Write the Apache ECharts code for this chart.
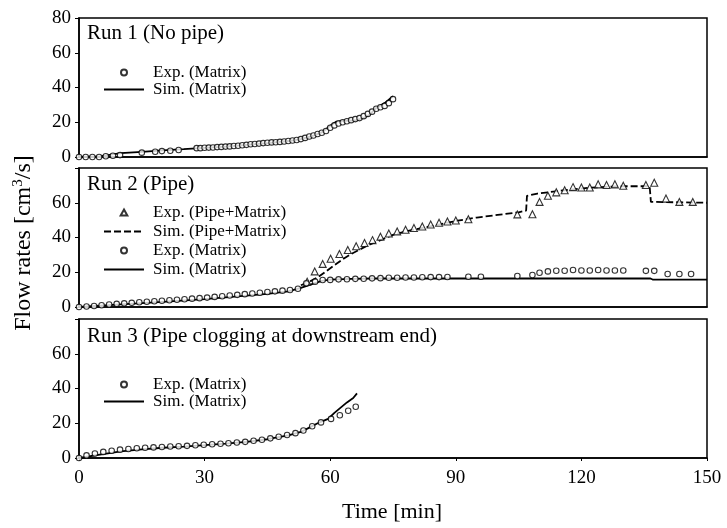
<!DOCTYPE html>
<html>
<head>
<meta charset="utf-8">
<script src="https://cdn.jsdelivr.net/npm/echarts@6/dist/echarts.min.js"></script>
<style>html,body{margin:0;padding:0;background:#fff}#c{width:727px;height:528px}</style>
</head>
<body>
<div id="c"></div>
<script>
// ---------- data (time [min], flow rate [cm3/s]) ----------
var xTicks = [0, 30, 60, 90, 120, 150];
var yTicks = [0, 20, 40, 60, 80];

var run1ExpMatrix = [[0,0],[1.6,0],[3.2,0],[4.8,0],[6.4,0.4],[8.1,0.7],[9.8,1.1],[15,2.5],[18.2,3],[19.8,3.4],[21.8,3.6],[23.8,4],
  [28.1,5.1],[29,5.1],[30,5.3],[31,5.4],[32,5.5],[33,5.7],[34,5.8],[35,6],[36,6.1],[37,6.3],[38,6.5],[39,6.8],[40,7],[41,7.3],
  [42,7.5],[43,7.7],[44,8],[45,8.2],[46,8.4],[47,8.5],[48,8.7],[49,8.9],[50,9.2],[51,9.5],[52,9.8],[53,10.3],[54,11],[55,11.8],
  [56,12.4],[57,13.2],[58,14],[59,15],[60,16.8],[61,18.2],[62,19.3],[63,20],[64,20.6],[65,21.2],[66,21.8],[67,22.4],[68,23.5],
  [69,24.8],[70,26.1],[71,27.8],[72,28.6],[73,29.4],[74,31],[75,33.3]];
var run1SimMatrix = [[0,0],[5,0.4],[10,2.2],[15,3],[20,3.8],[25,4.5],[30,5.3],[35,6],[40,7],[45,8],[50,9.2],[53,10.3],[56,12.3],
  [58,14.2],[59,16],[60,18],[61.5,20.4],[63,20.8],[66,21],[68,22.5],[69.5,24.5],[71,28.3],[73,31],[75,35]];

var run2ExpPipe = [[54.5,14.6],[56.3,20.5],[58.2,24.8],[60.1,27.8],[62.2,30.5],[64.2,32.8],[66.2,35],[68.2,36.8],[70.1,38.5],
  [72,40.5],[74,42.3],[76,43.5],[78,44.5],[80,45.5],[82,46.3],[84,47.5],[86,48.5],[88,49.2],[90,49.8],[93,50.5],[104.7,53.3],
  [108.3,53.4],[110,60.5],[112,64],[114,66],[116,67.2],[118,69],[120,68.8],[122,68.8],[124,70.6],[126,70.2],[128,70.6],[130,69.8],
  [135.4,70.2],[137.4,71.5],[140.2,62.4],[143.4,60.5],[146.6,60.5]];
var run2SimPipe = [[53,12.5],[55,14.5],[57,17],[59,20.5],[61,24],[63,27.5],[65,30.5],[67,33],[69,35.5],[71,37.5],[73,39.5],
  [75,41.5],[78,43.5],[80,44.5],[85,47],[90,49.5],[95,51.5],[100,53],[105,54.5],[106.8,55.5],[107,64],[109.5,65.3],[116,67.2],
  [122,68.7],[130,69.5],[136.3,69.5],[136.6,60.5],[150,60]];
var run2ExpMatrix = [[0,0],[1.8,0.3],[3.6,0.6],[5.4,1],[7.2,1.4],[9,1.8],[10.8,2.1],[12.6,2.4],[14.4,2.7],[16.2,3],[18,3.3],
  [19.8,3.6],[21.6,3.9],[23.4,4.2],[25.2,4.5],[27,4.8],[28.8,5.1],[30.6,5.4],[32.4,5.8],[34.2,6.2],[36,6.6],[37.8,7],[39.6,7.4],
  [41.4,7.8],[43.2,8.2],[45,8.6],[46.8,9],[48.6,9.4],[50.4,9.8],[52.3,10.5],[54.3,13.6],[56.4,14.6],[58.2,15.5],[60,15.6],
  [62,15.9],[64,16],[66,16.2],[68,16.3],[70,16.5],[72,16.6],[74,16.8],[76,16.8],[78,17],[80,17],[82,17.1],[84,17.2],[86,17.2],
  [88,17.3],[93,17.4],[96,17.4],[104.7,17.8],[108.3,18.4],[110,19.7],[112,20.5],[114,20.9],[116,20.9],[118,21.3],[120,21],
  [122,21],[124,21.3],[126,21],[128,21],[130,21],[135.4,20.8],[137.4,20.8],[140.6,19],[143.4,19],[146.2,19]];
var run2SimMatrix = [[0,0],[10,1.5],[20,3],[30,4.5],[40,6.5],[45,7.5],[50,9],[53,11],[56,13.5],[58,15],[60,15.8],[65,16.2],
  [70,16.4],[136.5,16.4],[137,15.8],[150,15.8]];

var run3ExpMatrix = [[0,0],[1.8,1.5],[3.8,2.6],[5.8,3.5],[7.8,4.2],[9.8,4.8],[11.8,5.2],[13.8,5.6],[15.8,5.9],[17.8,6.1],
  [19.8,6.3],[21.8,6.6],[23.8,6.8],[25.8,7],[27.8,7.3],[29.8,7.6],[31.8,7.9],[33.8,8.2],[35.7,8.5],[37.7,8.9],[39.7,9.3],
  [41.7,9.9],[43.7,10.5],[45.7,11.3],[47.7,12.2],[49.7,13.2],[51.7,14.3],[53.6,15.8],[55.7,18.3],[57.8,20.5],[60.2,22.5],
  [62.3,24.6],[64.3,27.2],[66.1,29.5]];
var run3SimMatrix = [[0,0],[5,2],[10,3.8],[15,5],[20,5.9],[25,6.6],[30,7.4],[35,8.3],[40,9.3],[45,10.8],[50,13],[53,15],
  [55,17.5],[57,20],[58.5,21.5],[59.5,22.5],[61,26],[62.5,29],[64,32],[65.5,34.5],[66.4,37.2]];

var panelTitles = ['Run 1 (No pipe)', 'Run 2 (Pipe)', 'Run 3 (Pipe clogging at downstream end)'];

// ---------- chart ----------
var FONT = 'Liberation Serif';
var grids = [
  {left: 79, right: 20, top: 18, height: 139},
  {left: 79, right: 20, top: 168, height: 139},
  {left: 79, right: 20, top: 319, height: 139}
];
grids.forEach(function (g) { g.show = true; g.borderColor = '#000'; g.borderWidth = 1.5; g.backgroundColor = 'transparent'; });

function xAxis(i) {
  return {
    type: 'value', gridIndex: i, min: xTicks[0], max: xTicks[xTicks.length - 1], interval: 30,
    axisLine: {show: true, onZero: false, lineStyle: {color: '#000', width: 1.5}},
    axisTick: {show: i === 2, length: 3, lineStyle: {color: '#000'}},
    axisLabel: {show: i === 2, color: '#000', fontFamily: FONT, fontSize: 19, margin: 11},
    splitLine: {show: false}
  };
}
function yAxis(i) {
  return {
    type: 'value', gridIndex: i, min: yTicks[0], max: yTicks[yTicks.length - 1], interval: 20,
    axisLine: {show: true, lineStyle: {color: '#000', width: 1.5}},
    axisTick: {show: true, length: 4, lineStyle: {color: '#000'}},
    axisLabel: {color: '#000', fontFamily: FONT, fontSize: 19, margin: 8,
      formatter: function (v) { return (i > 0 && v === 80) ? '' : String(v); }},
    splitLine: {show: false}
  };
}

var markStyle = {color: '#fff', borderColor: '#000', borderWidth: 1.1};
function expCircle(name, data, idx) {
  return {name: name, type: 'scatter', xAxisIndex: idx, yAxisIndex: idx, data: data, symbol: 'circle', symbolSize: 5.5,
    itemStyle: markStyle, z: 3};
}
function expTri(name, data, idx) {
  return {name: name, type: 'scatter', xAxisIndex: idx, yAxisIndex: idx, data: data, symbol: 'triangle', symbolSize: 7,
    itemStyle: markStyle, z: 3};
}
function simLine(name, data, idx, dashed) {
  return {name: name, type: 'line', xAxisIndex: idx, yAxisIndex: idx, data: data, showSymbol: false, symbol: 'none',
    lineStyle: {color: '#000', width: 1.8, type: dashed ? [7, 3] : 'solid'},
    itemStyle: {color: 'rgba(0,0,0,0)', borderColor: 'rgba(0,0,0,0)', borderWidth: 0}, z: 2};
}

var TRI_ICON = 'path://M5,0L10,9L0,9Z';
function legendItem(name) {
  if (name.indexOf('Pipe') >= 0 && name.indexOf('Exp') === 0) return {name: name, icon: TRI_ICON};
  return {name: name};
}
function legend(top, names, gap) {
  return {orient: 'vertical', left: 103, top: top, itemWidth: 40, itemHeight: 6, itemGap: gap, padding: 0,
    data: names.map(legendItem), selectedMode: false, symbolKeepAspect: true,
    textStyle: {color: '#000', fontFamily: FONT, fontSize: 17, lineHeight: 17, padding: [0, 0, 0, 4]}};
}
function title(top, text) {
  return {text: text, left: 87, top: top, padding: 0,
    textStyle: {color: '#000', fontFamily: FONT, fontSize: 21, fontWeight: 'normal'}};
}

var option = {
  animation: false,
  backgroundColor: '#fff',
  grid: grids,
  xAxis: [xAxis(0), xAxis(1), xAxis(2)],
  yAxis: [yAxis(0), yAxis(1), yAxis(2)],
  title: [title(23, panelTitles[0]), title(174, panelTitles[1]), title(326, panelTitles[2])],
  legend: [
    legend(64, ['Exp. (Matrix)', 'Sim. (Matrix)'], 0),
    legend(204, ['Exp. (Pipe+Matrix)', 'Sim. (Pipe+Matrix)', 'Exp. (Matrix)', 'Sim. (Matrix)'], 2),
    legend(376, ['Exp. (Matrix)', 'Sim. (Matrix)'], 0)
  ],
  series: [
    simLine('Sim. (Matrix)', run1SimMatrix, 0, false),
    expCircle('Exp. (Matrix)', run1ExpMatrix, 0),
    simLine('Sim. (Pipe+Matrix)', run2SimPipe, 1, true),
    expTri('Exp. (Pipe+Matrix)', run2ExpPipe, 1),
    simLine('Sim. (Matrix)', run2SimMatrix, 1, false),
    expCircle('Exp. (Matrix)', run2ExpMatrix, 1),
    simLine('Sim. (Matrix)', run3SimMatrix, 2, false),
    expCircle('Exp. (Matrix)', run3ExpMatrix, 2)
  ],
  graphic: [
    {type: 'text', x: 24, y: 243, rotation: Math.PI / 2,
      style: {text: '{a|Flow rates [cm}{s|3}{a|/s]}', align: 'center', verticalAlign: 'middle', fill: '#000',
        rich: {a: {fontSize: 24, fontFamily: FONT, color: '#000'},
               s: {fontSize: 15, fontFamily: FONT, color: '#000', padding: [0, 0, 11, 0]}}}},
    {type: 'text', x: 392, y: 512,
      style: {text: 'Time [min]', align: 'center', verticalAlign: 'middle', fill: '#000', fontSize: 22, fontFamily: FONT}}
  ]
};

var chart = echarts.init(document.getElementById('c'), null, {renderer: 'canvas'});
chart.setOption(option);
</script>
</body>
</html>
